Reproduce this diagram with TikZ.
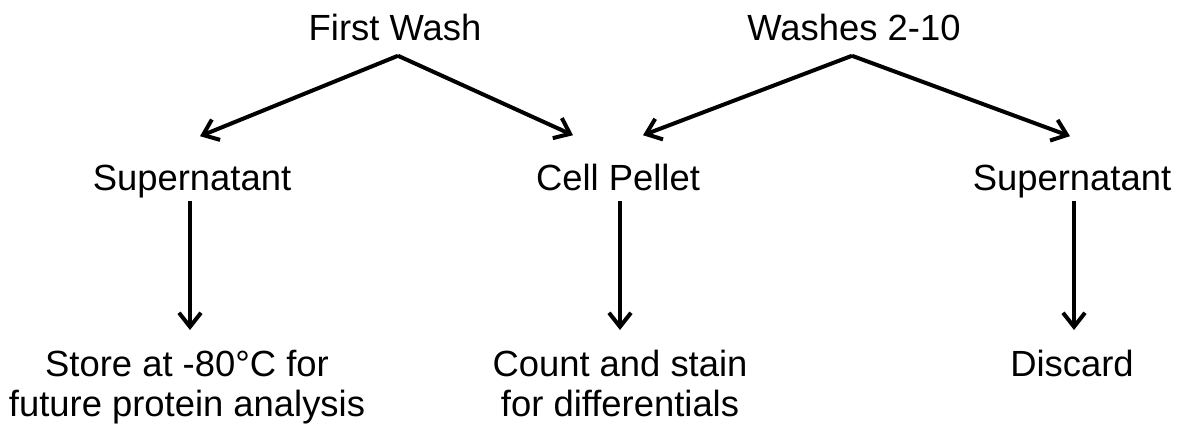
\documentclass[tikz,border=0pt]{standalone}
\usepackage{fontspec}
\setmainfont{Liberation Sans}
\usepackage{tikz}
\usetikzlibrary{arrows.meta,calc}

\begin{document}
\begin{tikzpicture}[
x=0.5pt,y=-0.5pt,
lbl/.style={align=center,inner sep=0pt,font=\fontsize{18.2}{20}\selectfont},
arr/.style={-{Straight Barb[length=7pt,width=11pt]},line width=2pt}
]
\useasboundingbox (0,0) rectangle (1189,430);
% wash steps
\node[lbl,anchor=base] (fw) at (395,40) {First Wash};
\node[lbl,anchor=base] (w) at (854,40) {Washes 2-10};
% fractions
\node[lbl,anchor=base] (sl) at (192,190) {Supernatant};
\node[lbl,anchor=base] (cp) at (618,190) {Cell Pellet};
\node[lbl,anchor=base] (sr) at (1072,190) {Supernatant};
% what happens to them
\node[lbl,anchor=north] (st) at (187,350) {Store at -80°C for\\future protein analysis};
\node[lbl,anchor=north] (ct) at (620,350) {Count and stain\\for differentials};
\node[lbl,anchor=north] (dc) at (1072,350) {Discard};
\draw[arr] ($(fw.south)+(3,15)$) -- ($(sl.north)+(8,-28)$);
\draw[arr] ($(fw.south)+(3,15)$) -- ($(cp.north)+(-45,-28)$);
\draw[arr] ($(w.south)+(-2,15)$) -- ($(cp.north)+(25,-28)$);
\draw[arr] ($(w.south)+(-2,15)$) -- ($(sr.north)+(-2,-28)$);
\draw[arr] ($(sl.south)+(-2,3)$) -- ($(st.north)+(3,-20)$);
\draw[arr] ($(cp.south)+(2,10)$) -- ($(ct.north)+(0,-20)$);
\draw[arr] ($(sr.south)+(2,3)$) -- ($(dc.north)+(2,-20)$);
\end{tikzpicture}
\end{document}
